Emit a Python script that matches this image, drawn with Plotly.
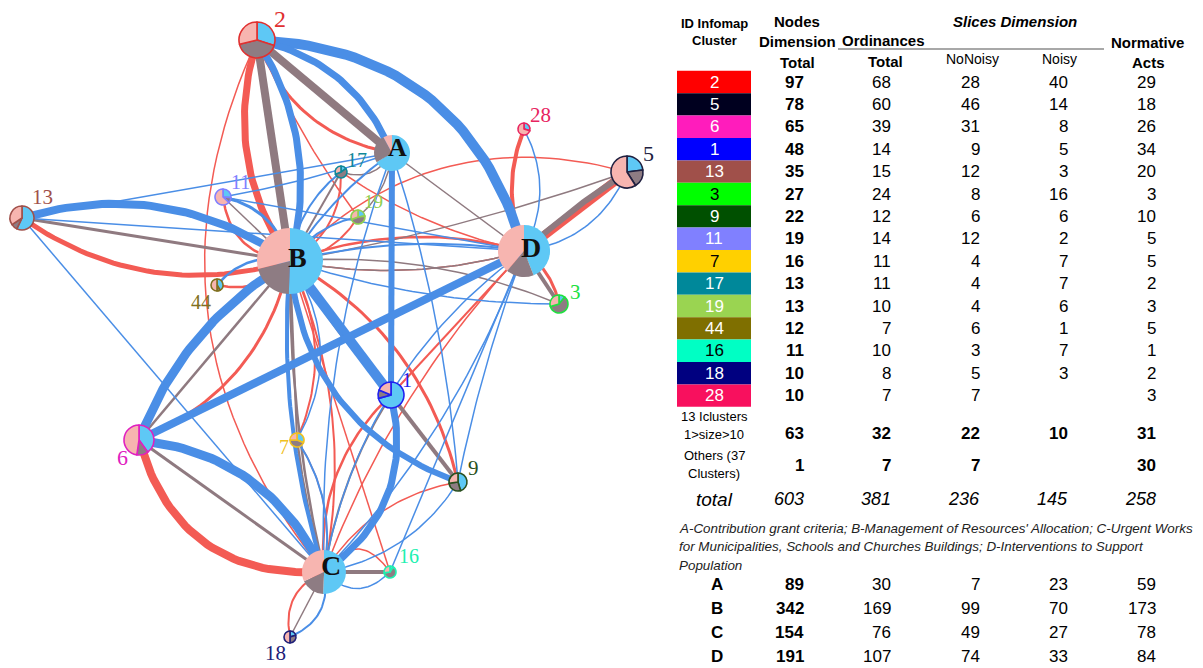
import numpy as np
import plotly.graph_objects as go

W, H = 1203, 668

# ---------------- table data ----------------
cluster_ids = ['2', '5', '6', '1', '13', '3', '9', '11', '7', '17', '19', '44', '16', '18', '28']
nodes_total = [97, 78, 65, 48, 35, 27, 22, 19, 16, 13, 13, 12, 11, 10, 10]
ord_total = [68, 60, 39, 14, 15, 24, 12, 14, 11, 11, 10, 7, 10, 8, 7]
no_noisy = [28, 46, 31, 9, 12, 8, 6, 12, 4, 4, 4, 6, 3, 5, 7]
noisy = [40, 14, 8, 5, 3, 16, 6, 2, 7, 7, 6, 1, 7, 3, None]
normative = [29, 18, 26, 34, 20, 3, 10, 5, 5, 2, 3, 5, 1, 2, 3]

small_label = ['13 Iclusters', '1>size>10']
small_row = [63, 32, 22, 10, 31]
others_label = ['Others (37', 'Clusters)']
others_row = [1, 7, 7, None, 30]
total_row = [603, 381, 236, 145, 258]

topic_ids = ['A', 'B', 'C', 'D']
topic_nodes = [89, 342, 154, 191]
topic_ord = [30, 169, 76, 107]
topic_no_noisy = [7, 99, 49, 74]
topic_noisy = [23, 70, 27, 33]
topic_normative = [59, 173, 78, 84]

footnote = ["A-Contribution grant criteria; B-Management of Resources' Allocation; C-Urgent Works",
            "for Municipalities, Schools and Churches Buildings; D-Interventions to Support",
            "Population"]

cluster_colors = ['#ff0000', '#00001f', '#ff1cbc', '#0000ff', '#a0504a', '#00ff00', '#005000',
                  '#8080ff', '#ffd000', '#00889a', '#9ad451', '#7f6f00', '#00ffc4', '#000080', '#f8105e']
cluster_text = ['white', 'white', 'white', 'white', 'white', 'black', 'white',
                'white', 'black', 'white', 'white', 'white', 'black', 'white', 'white']

# ---------------- network layout ----------------
node_pos = {
    '2': (257, 40), 'A': (392, 153), '28': (524, 129), '5': (627, 172), '13': (22, 218),
    '11': (223, 197), '17': (341, 172), '19': (358, 217), 'B': (290, 261), 'D': (524, 251),
    '3': (559, 304), '44': (217, 285), '1': (391, 395), '7': (297, 440), '9': (458, 482),
    '6': (139, 440), 'C': (324, 572), '16': (390, 572), '18': (290, 637),
}
node_r = {'2': 18, 'A': 18, '28': 6, '5': 16, '13': 12, '11': 8, '17': 6, '19': 7, 'B': 33,
          'D': 26, '3': 9, '44': 6, '1': 13, '7': 7, '9': 9, '6': 15, 'C': 22, '16': 6, '18': 6}
outline = {'2': '#e03030', '5': '#202040', '6': '#e020c0', '1': '#2020f0', '13': '#a0504a',
           '3': '#20e040', '9': '#2a5020', '11': '#8080ff', '7': '#f0c020', '17': '#108898',
           '19': '#90d050', '44': '#807020', '16': '#20f0b0', '18': '#202078', '28': '#e8245f'}
label_pos = {'2': (280, 19), 'A': (397, 147), '28': (540, 115), '5': (648, 153), '13': (42, 197),
             '11': (240, 182), '17': (357, 160), '19': (373, 201), 'B': (297, 257), 'D': (531, 247),
             '3': (575, 292), '44': (201, 302), '1': (407, 380), '7': (284, 447), '9': (473, 468),
             '16': (409, 556), '6': (122, 457), '18': (275, 653), 'C': (331, 565)}
label_size = {'2': 24, 'A': 26, 'B': 28, 'C': 28, 'D': 28, '5': 22, '28': 21, '13': 21, '11': 20,
              '17': 20, '19': 19, '3': 21, '44': 20, '1': 20, '7': 20, '9': 21, '16': 20, '6': 22, '18': 21}

# edges: source, target, kind (N normative, Z noisy, C no-noisy), weight, bend
edges = [
    # no-noisy (red)
    ('2', 'B', 'C', 7, 0.12), ('2', 'A', 'C', 3, 0.14), ('2', 'C', 'C', 1.5, 0.155),
    ('2', '19', 'C', 1.5, 0.03), ('13', 'B', 'C', 5, 0.12), ('B', '6', 'C', 3, -0.13),
    ('6', 'C', 'C', 8, 0.2), ('5', 'D', 'C', 9, 0.0), ('28', 'D', 'C', 4, 0.1),
    ('5', 'B', 'C', 1.5, 0.146), ('3', 'D', 'C', 3, 0.1), ('1', 'D', 'C', 2, 0.0),
    ('B', '9', 'C', 3, -0.11), ('1', 'C', 'C', 2.5, 0.12), ('B', '16', 'C', 1.5, 0.0),
    ('7', 'B', 'C', 2, 0.12), ('7', 'C', 'C', 1.5, -0.1), ('B', 'C', 'C', 2, -0.08),
    ('11', 'B', 'C', 2.5, 0.2), ('C', '18', 'C', 2, 0.2), ('C', '16', 'C', 1.5, -0.35),
    ('9', 'C', 'C', 1.5, 0.11), ('B', 'D', 'C', 2.5, -0.08), ('B', 'D', 'C', 1.5, 0.06),
    ('17', 'D', 'C', 1.5, 0.05), ('D', 'C', 'C', 1.5, 0.05), ('44', 'B', 'C', 2.5, 0.15),
    ('17', 'B', 'C', 2, -0.15), ('19', 'B', 'C', 2, -0.12),
    # noisy (grey)
    ('2', 'B', 'Z', 8, 0.0), ('2', 'A', 'Z', 8, 0.0), ('13', 'B', 'Z', 3, 0.0),
    ('B', '6', 'Z', 2.5, 0.0), ('6', 'C', 'Z', 3, 0.0), ('5', 'D', 'Z', 6, 0.02),
    ('1', '9', 'Z', 4, 0.0), ('B', '1', 'Z', 3, 0.02), ('A', 'D', 'Z', 1.5, 0.0),
    ('7', 'C', 'Z', 2.5, 0.02), ('B', '7', 'Z', 2, 0.0), ('B', 'C', 'Z', 2.5, 0.03),
    ('C', '16', 'Z', 4, 0.0), ('3', 'D', 'Z', 4, 0.0), ('B', '3', 'Z', 1.5, -0.06),
    ('5', 'B', 'Z', 1.5, -0.02), ('17', 'A', 'Z', 1.5, 0.2), ('19', 'A', 'Z', 1.5, 0.1),
    ('1', 'C', 'Z', 2, 0.05), ('C', '18', 'Z', 1.5, 0.0), ('B', 'D', 'Z', 1.5, 0.06),
    ('17', 'B', 'Z', 2, 0.0), ('11', 'B', 'Z', 1.5, 0.0),
    # normative (blue)
    ('2', 'D', 'N', 10, -0.18), ('2', 'A', 'N', 7, -0.13), ('2', 'B', 'N', 7, -0.11),
    ('13', 'B', 'N', 8, -0.12), ('13', 'A', 'N', 1.5, 0.0), ('13', 'D', 'N', 1.5, 0.0),
    ('13', 'C', 'N', 1.5, 0.0), ('11', 'A', 'N', 1.5, 0.02), ('11', 'D', 'N', 1.5, 0.0),
    ('11', 'B', 'N', 3, -0.15), ('44', 'B', 'N', 2.5, -0.15), ('17', 'B', 'N', 2, 0.1),
    ('19', 'B', 'N', 2, 0.1), ('B', '6', 'N', 9, 0.087), ('B', '1', 'N', 10, 0.0),
    ('B', '9', 'N', 6, 0.16), ('B', 'C', 'N', 4, 0.05), ('B', 'D', 'N', 2, -0.05),
    ('B', '3', 'N', 1.5, 0.04), ('A', '1', 'N', 6, 0.0), ('1', 'C', 'N', 7, -0.17),
    ('6', 'C', 'N', 9, -0.14), ('D', '6', 'N', 8, 0.0), ('D', '5', 'N', 1.5, 0.14),
    ('28', 'D', 'N', 1.5, -0.13), ('A', '9', 'N', 1.5, -0.03), ('A', 'C', 'N', 1.5, 0.05),
    ('A', 'B', 'N', 2, 0.05), ('D', 'C', 'N', 1.5, 0.1), ('D', 'C', 'N', 1.5, -0.05),
    ('D', '9', 'N', 1.5, 0.02), ('D', '16', 'N', 1.5, 0.0), ('C', '9', 'N', 1.5, 0.11),
    ('C', '16', 'N', 1.5, 0.25), ('C', '18', 'N', 2, -0.2), ('7', 'C', 'N', 2, -0.1),
    ('7', 'B', 'N', 1.5, 0.15),
]
edge_color = {'N': '#4a8ee6', 'Z': '#8f7a80', 'C': '#f35b54'}
slice_colors = ['#5ec8f5', '#8e7c83', '#f7b5b0']  # normative, noisy, no-noisy


def curve(p0, p1, bend, n=40):
    p0, p1 = np.asarray(p0, float), np.asarray(p1, float)
    d = p1 - p0
    L = np.hypot(d[0], d[1])
    nrm = np.array([-d[1], d[0]]) / L
    c = (p0 + p1) / 2 + 2 * bend * L * nrm
    t = np.linspace(0, 1, n)[:, None]
    pts = (1 - t) ** 2 * p0 + 2 * (1 - t) * t * c + t ** 2 * p1
    return pts[:, 0], pts[:, 1]


fig = go.Figure()

for u, v, kind, w, bend in edges:
    xs, ys = curve(node_pos[u], node_pos[v], bend)
    fig.add_trace(go.Scatter(x=xs, y=ys, mode='lines', hoverinfo='skip', showlegend=False,
                             line=dict(color=edge_color[kind], width=w)))

# node pies (slices: normative, noisy, no-noisy; clockwise from 12 o'clock)
pie_values = {}
for i, cid in enumerate(cluster_ids):
    pie_values[cid] = [normative[i], noisy[i] or 0, no_noisy[i]]
for i, tid in enumerate(topic_ids):
    pie_values[tid] = [topic_normative[i], topic_noisy[i], topic_no_noisy[i]]

for nid, (cx, cy) in node_pos.items():
    r = node_r[nid]
    lw = 0 if nid in topic_ids else 1.6
    lc = outline.get(nid, 'white')
    fig.add_trace(go.Pie(values=pie_values[nid], sort=False, direction='clockwise', rotation=0,
                         textinfo='none', hoverinfo='skip', showlegend=False,
                         marker=dict(colors=slice_colors, line=dict(color=lc, width=lw)),
                         domain=dict(x=[(cx - r) / W, (cx + r) / W],
                                     y=[1 - (cy + r) / H, 1 - (cy - r) / H])))

ann = []
for nid, (lx, ly) in label_pos.items():
    col = '#111111' if nid in topic_ids else outline[nid]
    s = '<b>' + nid + '</b>' if nid in topic_ids else nid
    ann.append(dict(x=lx, y=ly, text=s, showarrow=False, xref='x', yref='y',
                    font=dict(family='Liberation Serif', size=label_size[nid], color=col)))

SANS = 'Liberation Sans'


def txt(x, y, s, size=17, bold=False, italic=False, color='black', anchor='center'):
    if s is None:
        return
    s = str(s)
    if bold:
        s = '<b>' + s + '</b>'
    if italic:
        s = '<i>' + s + '</i>'
    ann.append(dict(x=x, y=y, text=s, showarrow=False, xref='x', yref='y', xanchor=anchor,
                    yanchor='middle', font=dict(family=SANS, size=size, color=color)))


# header
txt(714, 23, 'ID Infomap', 13, bold=True)
txt(714, 40, 'Cluster', 13, bold=True)
txt(797, 21, 'Nodes', 15, bold=True)
txt(797, 41, 'Dimension', 15, bold=True)
txt(797, 62, 'Total', 15, bold=True)
txt(1015, 21, 'Slices Dimension', 15, bold=True, italic=True)
txt(883, 40, 'Ordinances', 15, bold=True)
txt(885, 61, 'Total', 15, bold=True)
txt(972, 59, 'NoNoisy', 14)
txt(1059, 59, 'Noisy', 14)
txt(1147, 42, 'Normative', 15, bold=True)
txt(1148, 62, 'Acts', 15, bold=True)

shapes = [dict(type='line', xref='x', yref='y', x0=838, x1=1104, y0=49, y1=49,
               line=dict(color='#a8a8a8', width=2))]

col_right = [806, 893, 982, 1070, 1158]
row_h = 22.4
for i, cid in enumerate(cluster_ids):
    y = 82 + row_h * i
    shapes.append(dict(type='rect', xref='x', yref='y', x0=677, x1=751, y0=y - row_h / 2,
                       y1=y + row_h / 2, fillcolor=cluster_colors[i], line=dict(width=0),
                       layer='below'))
    txt(714, y, cid, 17, color=cluster_text[i])
    vals = [nodes_total[i], ord_total[i], no_noisy[i], noisy[i], normative[i]]
    for j, v in enumerate(vals):
        txt(col_right[j], y, v, 17, bold=(j == 0), anchor='right')

txt(714, 416, small_label[0], 13)
txt(714, 434, small_label[1], 13)
for j, v in enumerate(small_row):
    txt(col_right[j], 433, v, 17, bold=True, anchor='right')
txt(714, 455, others_label[0], 13)
txt(714, 473, others_label[1], 13)
for j, v in enumerate(others_row):
    txt(col_right[j], 465, v, 17, bold=True, anchor='right')
txt(714, 499, 'total', 19, italic=True)
for j, v in enumerate(total_row):
    txt(col_right[j], 499, v, 18, italic=True, anchor='right')

for k, line in enumerate(footnote):
    txt(677, 528 + 18.5 * k, line, 13.4, italic=True, color='#222222', anchor='left')

for i, tid in enumerate(topic_ids):
    y = 584 + 24 * i
    txt(717, y, tid, 17, bold=True)
    vals = [topic_nodes[i], topic_ord[i], topic_no_noisy[i], topic_noisy[i], topic_normative[i]]
    for j, v in enumerate(vals):
        txt(col_right[j], y, v, 17, bold=(j == 0), anchor='right')

fig.update_layout(
    width=W, height=H, margin=dict(l=0, r=0, t=0, b=0),
    paper_bgcolor='white', plot_bgcolor='white', showlegend=False, hovermode=False,
    xaxis=dict(range=[0, W], visible=False, fixedrange=True),
    yaxis=dict(range=[H, 0], visible=False, fixedrange=True),
    annotations=ann, shapes=shapes,
)

fig.write_html('out.html')
